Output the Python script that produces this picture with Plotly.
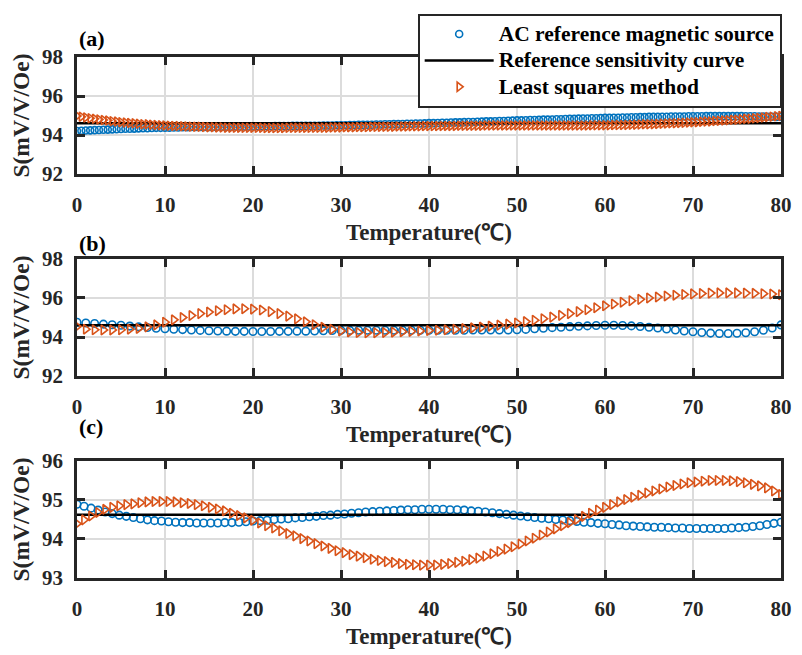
import numpy as np
import plotly.graph_objects as go

# ---------------- data ----------------
# Panel (a): samples every 0.5 degC from 0 to 80
ac_a = [94.21, 94.22, 94.23, 94.24, 94.25, 94.26, 94.27, 94.28, 94.29, 94.30, 94.31, 94.32, 94.32, 94.33, 94.34, 94.35, 94.35, 94.36, 94.37, 94.37, 94.38,
        94.38, 94.39, 94.39, 94.40, 94.40, 94.41, 94.41, 94.41, 94.42, 94.42, 94.42, 94.43, 94.43, 94.43, 94.43, 94.44, 94.44, 94.44, 94.44, 94.44,
        94.45, 94.45, 94.45, 94.45, 94.46, 94.46, 94.46, 94.46, 94.47, 94.47, 94.47, 94.47, 94.48, 94.48, 94.48, 94.49, 94.49, 94.49, 94.50, 94.50,
        94.50, 94.51, 94.51, 94.52, 94.52, 94.53, 94.53, 94.54, 94.54, 94.55, 94.55, 94.56, 94.56, 94.57, 94.58, 94.58, 94.59, 94.59, 94.60, 94.61,
        94.61, 94.62, 94.63, 94.63, 94.64, 94.65, 94.65, 94.66, 94.67, 94.67, 94.68, 94.69, 94.70, 94.70, 94.71, 94.72, 94.72, 94.73, 94.74, 94.75,
        94.75, 94.76, 94.77, 94.77, 94.78, 94.79, 94.79, 94.80, 94.81, 94.81, 94.82, 94.83, 94.83, 94.84, 94.85, 94.85, 94.86, 94.86, 94.87, 94.88,
        94.88, 94.89, 94.89, 94.90, 94.90, 94.91, 94.91, 94.92, 94.92, 94.93, 94.93, 94.93, 94.94, 94.94, 94.95, 94.95, 94.95, 94.95, 94.96, 94.96,
        94.96, 94.96, 94.97, 94.97, 94.97, 94.97, 94.97, 94.97, 94.97, 94.97, 94.97, 94.96, 94.96, 94.96, 94.95, 94.95, 94.94, 94.94, 94.93, 94.93]
ls_a = [94.98, 94.94, 94.90, 94.86, 94.83, 94.80, 94.77, 94.74, 94.71, 94.69, 94.66, 94.64, 94.62, 94.60, 94.58, 94.56, 94.55, 94.53, 94.52, 94.50, 94.49,
        94.48, 94.47, 94.46, 94.45, 94.44, 94.43, 94.42, 94.42, 94.41, 94.40, 94.40, 94.39, 94.39, 94.38, 94.38, 94.38, 94.37, 94.37, 94.37, 94.37,
        94.37, 94.37, 94.36, 94.36, 94.36, 94.36, 94.36, 94.37, 94.37, 94.37, 94.37, 94.37, 94.37, 94.38, 94.38, 94.38, 94.38, 94.39, 94.39, 94.39,
        94.40, 94.40, 94.40, 94.41, 94.41, 94.41, 94.42, 94.42, 94.42, 94.43, 94.43, 94.43, 94.44, 94.44, 94.44, 94.45, 94.45, 94.45, 94.46, 94.46,
        94.46, 94.46, 94.47, 94.47, 94.47, 94.47, 94.48, 94.48, 94.48, 94.48, 94.48, 94.48, 94.49, 94.49, 94.49, 94.49, 94.49, 94.49, 94.49, 94.49,
        94.49, 94.49, 94.49, 94.49, 94.49, 94.49, 94.49, 94.49, 94.49, 94.49, 94.49, 94.49, 94.49, 94.49, 94.49, 94.49, 94.50, 94.50, 94.50, 94.50,
        94.50, 94.51, 94.51, 94.52, 94.52, 94.53, 94.53, 94.54, 94.55, 94.55, 94.56, 94.57, 94.58, 94.59, 94.60, 94.61, 94.62, 94.63, 94.64, 94.65,
        94.66, 94.68, 94.69, 94.70, 94.72, 94.73, 94.75, 94.76, 94.78, 94.79, 94.81, 94.83, 94.84, 94.86, 94.88, 94.90, 94.92, 94.94, 94.96, 94.98]

# Panel (b): samples every 1 degC from 0 to 80
ac_b = [94.76, 94.72, 94.69, 94.66, 94.63, 94.60, 94.56, 94.52, 94.49, 94.45, 94.42, 94.40, 94.38, 94.36, 94.34, 94.32, 94.31, 94.30, 94.29, 94.29,
        94.28, 94.28, 94.28, 94.29, 94.29, 94.30, 94.30, 94.31, 94.32, 94.33, 94.34, 94.34, 94.35, 94.35, 94.35, 94.35, 94.35, 94.35, 94.35, 94.35,
        94.35, 94.35, 94.35, 94.35, 94.35, 94.36, 94.36, 94.36, 94.36, 94.36, 94.37, 94.39, 94.42, 94.45, 94.48, 94.50, 94.53, 94.55, 94.57, 94.59,
        94.60, 94.60, 94.59, 94.57, 94.54, 94.50, 94.46, 94.41, 94.36, 94.31, 94.27, 94.23, 94.20, 94.18, 94.18, 94.19, 94.22, 94.27, 94.35, 94.46,
        94.62]
ls_b = [94.54, 94.40, 94.37, 94.36, 94.36, 94.37, 94.40, 94.44, 94.52, 94.62, 94.76, 94.88, 95.00, 95.10, 95.20, 95.28, 95.35, 95.40, 95.44, 95.45,
        95.43, 95.38, 95.30, 95.20, 95.07, 94.93, 94.78, 94.63, 94.50, 94.39, 94.31, 94.26, 94.23, 94.22, 94.22, 94.23, 94.25, 94.27, 94.29, 94.31,
        94.33, 94.35, 94.37, 94.40, 94.43, 94.47, 94.51, 94.56, 94.61, 94.66, 94.72, 94.79, 94.86, 94.94, 95.02, 95.11, 95.20, 95.30, 95.40, 95.50,
        95.60, 95.69, 95.78, 95.86, 95.93, 96.00, 96.05, 96.10, 96.14, 96.18, 96.21, 96.23, 96.25, 96.26, 96.26, 96.26, 96.25, 96.24, 96.22, 96.20,
        96.17]

# Panel (c): samples every 0.8 degC from 0 to 80
ac_c = [94.89, 94.84, 94.79, 94.74, 94.69, 94.65, 94.61, 94.58, 94.55, 94.52, 94.49, 94.47, 94.46, 94.44, 94.43, 94.42, 94.42, 94.41, 94.41, 94.41,
        94.41, 94.42, 94.42, 94.43, 94.44, 94.46, 94.47, 94.48, 94.50, 94.51, 94.52, 94.54, 94.55, 94.57, 94.58, 94.60, 94.61, 94.63, 94.64, 94.66,
        94.67, 94.69, 94.70, 94.71, 94.72, 94.73, 94.74, 94.75, 94.75, 94.76, 94.76, 94.76, 94.76, 94.75, 94.75, 94.74, 94.72, 94.71, 94.69, 94.67,
        94.65, 94.63, 94.61, 94.59, 94.57, 94.55, 94.53, 94.52, 94.50, 94.49, 94.47, 94.45, 94.43, 94.42, 94.40, 94.39, 94.37, 94.36, 94.34, 94.33,
        94.32, 94.31, 94.30, 94.30, 94.29, 94.28, 94.28, 94.27, 94.27, 94.27, 94.27, 94.27, 94.27, 94.28, 94.29, 94.30, 94.32, 94.34, 94.37, 94.40,
        94.43]
ls_c = [94.39, 94.49, 94.59, 94.68, 94.76, 94.81, 94.85, 94.88, 94.90, 94.93, 94.95, 94.96, 94.96, 94.96, 94.95, 94.93, 94.91, 94.88, 94.85, 94.81,
        94.77, 94.72, 94.66, 94.60, 94.54, 94.48, 94.41, 94.34, 94.28, 94.21, 94.14, 94.08, 94.01, 93.95, 93.88, 93.82, 93.76, 93.70, 93.65, 93.60,
        93.56, 93.52, 93.48, 93.45, 93.42, 93.40, 93.37, 93.35, 93.34, 93.33, 93.33, 93.33, 93.35, 93.37, 93.40, 93.43, 93.47, 93.51, 93.56, 93.62,
        93.68, 93.74, 93.80, 93.87, 93.95, 94.02, 94.10, 94.18, 94.26, 94.34, 94.42, 94.50, 94.58, 94.66, 94.74, 94.81, 94.88, 94.95, 95.01, 95.07,
        95.12, 95.18, 95.23, 95.28, 95.33, 95.37, 95.41, 95.44, 95.46, 95.48, 95.50, 95.50, 95.50, 95.49, 95.47, 95.44, 95.40, 95.36, 95.31, 95.23,
        95.14]

ref_temp = [0, 80]
ref_a = [94.6, 94.6]
ref_b = [94.6, 94.6]
ref_c = [94.62, 94.62]

x_ticks = [0, 10, 20, 30, 40, 50, 60, 70, 80]
y_ticks_ab = [92, 94, 96, 98]
y_ticks_c = [93, 94, 95, 96]
panel_labels = ["(a)", "(b)", "(c)"]

names = ["AC reference magnetic source", "Reference sensitivity curve", "Least squares method"]
x_title = "Temperature(℃)"
y_title = "S(mV/V/Oe)"

# ---------------- styling ----------------
BLUE = "#0072BD"
ORANGE = "#D95319"
AX = "#262626"
FONT = "Liberation Serif"

panels = [
    (ac_a, ls_a, ref_a, [92, 98], y_ticks_ab, 7, 8),
    (ac_b, ls_b, ref_b, [92, 98], y_ticks_ab, 7.5, 8.5),
    (ac_c, ls_c, ref_c, [93, 96], y_ticks_c, 7.5, 8.5),
]

fig = go.Figure()
for k, (ac, ls, ref, yr, yt, cs, ts) in enumerate(panels):
    xa = "x" if k == 0 else f"x{k+1}"
    ya = "y" if k == 0 else f"y{k+1}"
    t_ac = np.linspace(0, 80, len(ac))
    t_ls = np.linspace(0, 80, len(ls))
    show = k == 0
    lab = (lambda s: f'<span style="font-size:21.5px">{s}</span>')
    fig.add_trace(go.Scatter(x=t_ac, y=ac, mode="markers", name=lab(names[0]), showlegend=show,
                             xaxis=xa, yaxis=ya,
                             marker=dict(symbol="circle-open", size=cs, color=BLUE, line=dict(width=1.6, color=BLUE))))
    fig.add_trace(go.Scatter(x=ref_temp, y=ref, mode="lines", name=lab(names[1]), showlegend=show,
                             xaxis=xa, yaxis=ya,
                             line=dict(color="black", width=2.5)))
    fig.add_trace(go.Scatter(x=t_ls, y=ls, mode="markers", name=lab(names[2]), showlegend=show,
                             xaxis=xa, yaxis=ya,
                             marker=dict(symbol="triangle-right-open", size=ts, color=ORANGE, line=dict(width=1.6, color=ORANGE))))

W, H = 802, 655
ML, MR, MT, MB = 77, 10, 57, 64
PH = H - MT - MB
PW = W - ML - MR


def ydom(top_px, bot_px):
    return [(H - MB - bot_px) / PH, (H - MB - top_px) / PH]


domains = [ydom(57, 177), ydom(264, 384), ydom(471, 591)]

common_x = dict(range=[0, 80], tickvals=x_ticks, showline=True, linecolor=AX, linewidth=2.5, mirror="ticks",
                ticks="inside", ticklen=8, tickwidth=2.5, tickcolor=AX, showgrid=True, gridcolor="#dcdcdc",
                gridwidth=2, zeroline=False, tickfont=dict(family=FONT, size=21, color=AX, weight="bold"),
                ticklabelstandoff=10,
                title=dict(text=x_title, font=dict(family=FONT, size=23, color=AX, weight="bold"), standoff=8))
common_y = dict(showline=True, linecolor=AX, linewidth=2.5, mirror="ticks",
                ticks="inside", ticklen=8, tickwidth=2.5, tickcolor=AX, showgrid=True, gridcolor="#dcdcdc",
                gridwidth=2, zeroline=False, tickfont=dict(family=FONT, size=21, color=AX, weight="bold"),
                ticklabelstandoff=7,
                title=dict(text=y_title, font=dict(family=FONT, size=23.5, color=AX, weight="bold"), standoff=6))

layout = dict(width=W, height=H, margin=dict(l=ML, r=MR, t=MT, b=MB), paper_bgcolor="white", plot_bgcolor="white",
              font=dict(family=FONT, weight="bold", color="black"))
for k in range(3):
    sx = "" if k == 0 else str(k + 1)
    xa = dict(common_x, anchor="y" + sx, domain=[0, 1])
    ya = dict(common_y, anchor="x" + sx, domain=domains[k], range=panels[k][3], tickvals=panels[k][4])
    layout["xaxis" + sx] = xa
    layout["yaxis" + sx] = ya

layout["legend"] = dict(x=(423 - ML) / PW, y=(H - MB - 12.7) / PH, xanchor="left", yanchor="top",
                        bgcolor="white", bordercolor=AX, borderwidth=2,
                        font=dict(family=FONT, size=18, color="black", weight="bold"),
                        itemwidth=69, tracegroupgap=0)

label_y = [38, 248, 436]
annotations = []
for lab_txt, py in zip(panel_labels, label_y):
    annotations.append(dict(text=lab_txt, xref="paper", yref="paper", x=0, y=(H - MB - py) / PH,
                            xanchor="left", yanchor="middle", showarrow=False,
                            font=dict(family=FONT, size=22, color="black", weight="bold")))
layout["annotations"] = annotations

fig.update_layout(**layout)
fig.write_html("out.html", config={"displayModeBar": False},
               post_script="document.body.style.margin='0px';document.body.style.overflow='hidden';")
